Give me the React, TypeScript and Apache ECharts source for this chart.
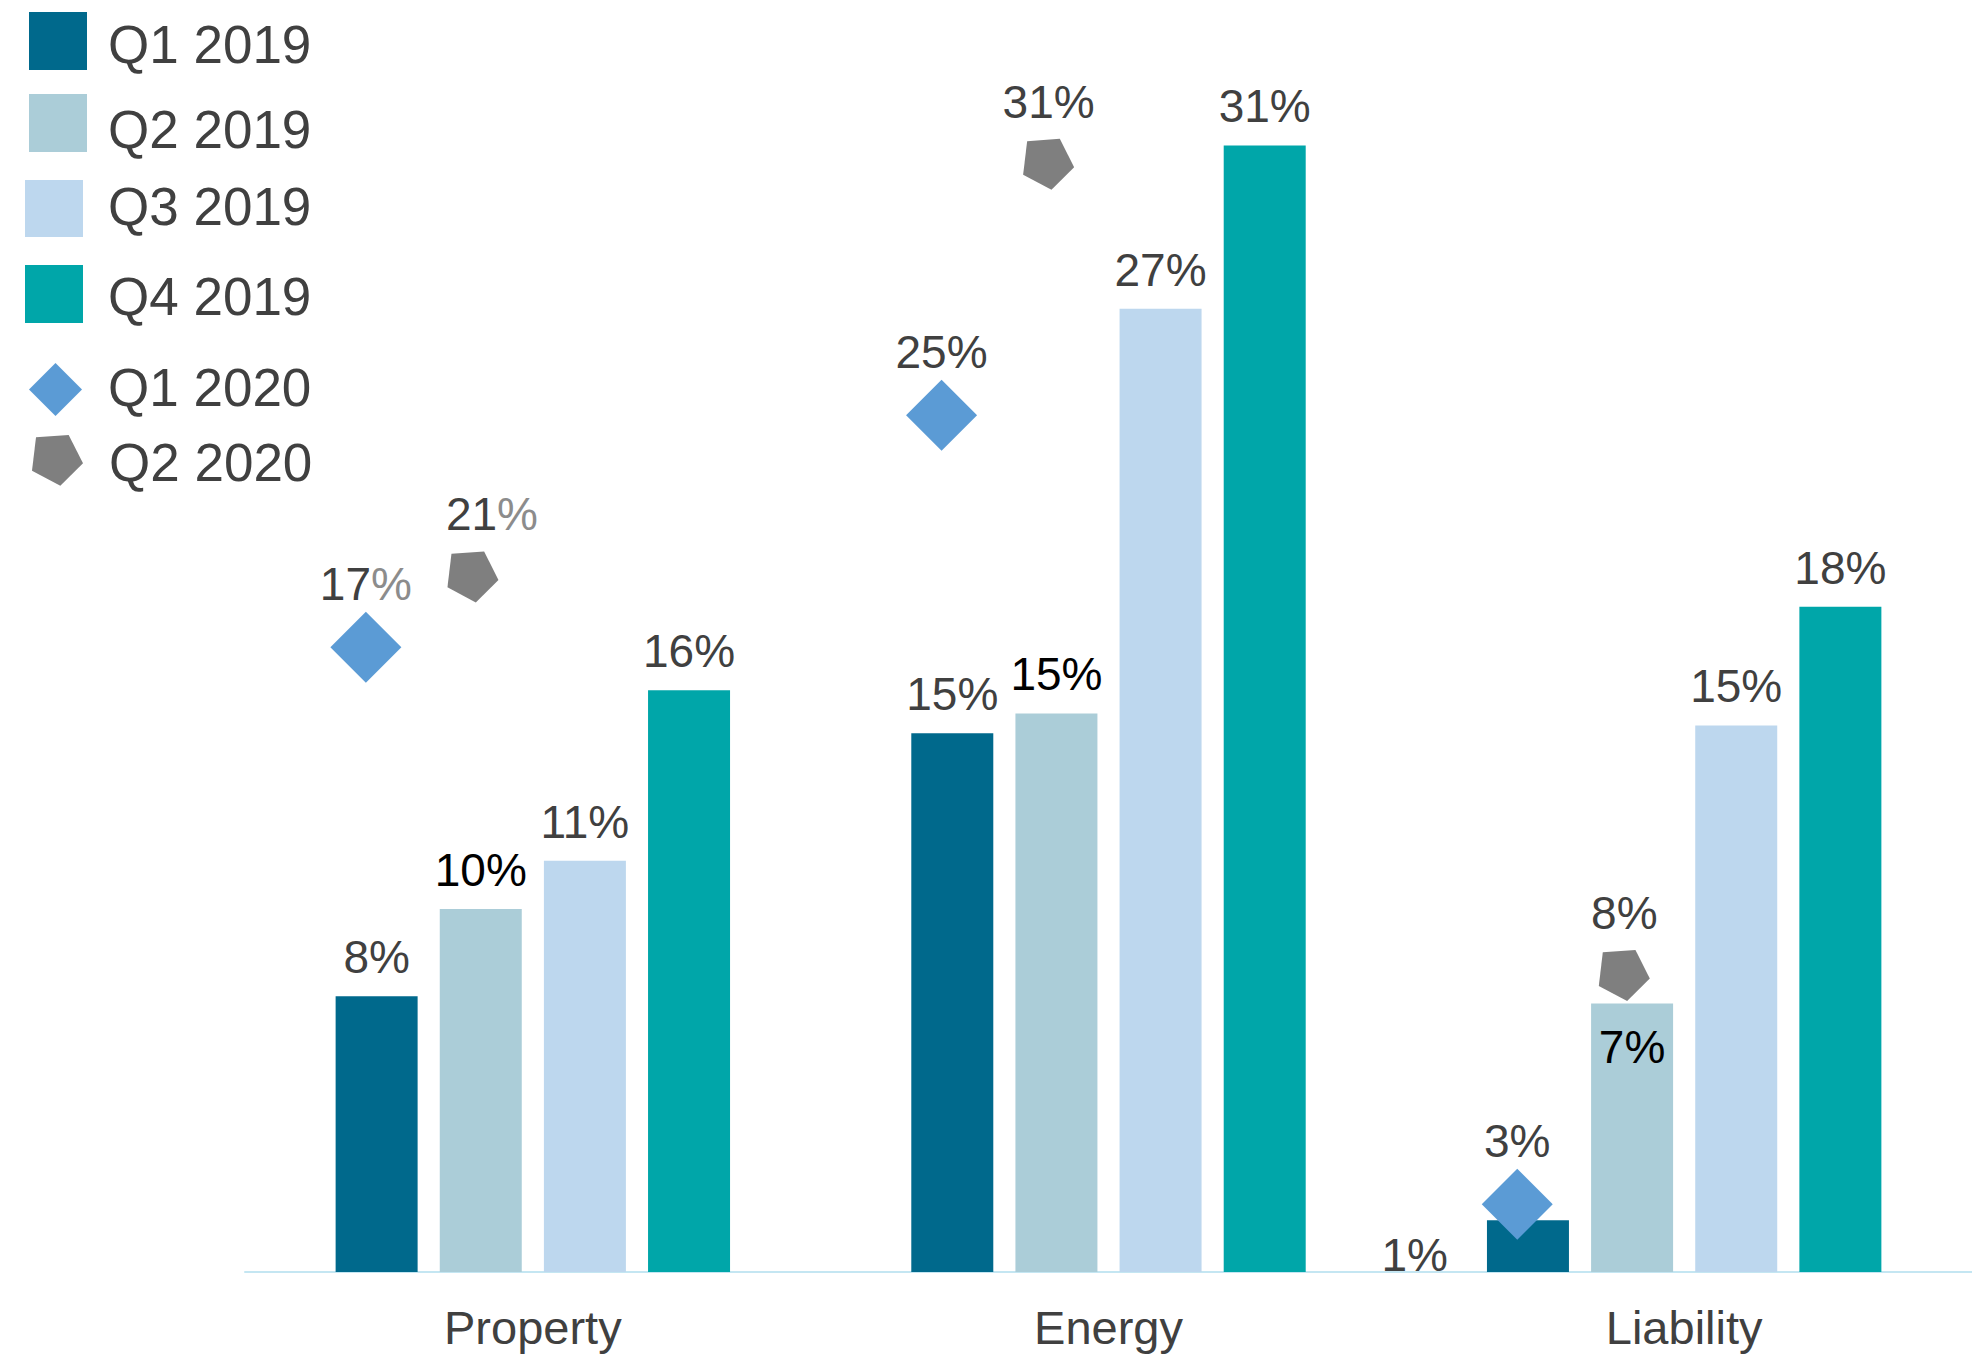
import React, { useEffect, useRef } from "react";
import * as echarts from "echarts";

// ---- Data ----
const categories = ["Property", "Energy", "Liability"];
const seriesNames = ["Q1 2019", "Q2 2019", "Q3 2019", "Q4 2019", "Q1 2020", "Q2 2020"];

const q1_2019 = [7.62, 14.88, 1.43];
const q2_2019 = [10.03, 15.43, 7.42];
const q3_2019 = [11.36, 26.61, 15.1];
const q4_2019 = [16.07, 31.12, 18.38];

// Marker heights as drawn, and the values printed in their labels
const q1_2020Marker = [17.26, 23.67, 1.87];
const q1_2020Labels = [17, 25, 3];
const q2_2020Marker = [19.2, 30.6, 8.19];
const q2_2020Labels = [21, 31, 8];

// ---- Styles ----
const FONT = "'Liberation Sans', Arial, Helvetica, sans-serif";
const TEXT = "#404040";
const COLORS = ["#00698C", "#ABCDD8", "#BDD7EE", "#00A6A9", "#5B9BD5", "#7F7F7F"];
const PENTAGON = "path://M465,222L563,215L606,300L538,367L453,322Z";
const DIAMOND_DX = -0.29;
const PENTAGON_DX = -0.104;

// legend icons (extra move-to points only pad the icon box so the text sits as in the reference)
const ICON_Q1_2019 = "path://M0,0L58,0L58,58L0,58Z M0,64";
const ICON_Q2_2019 = "path://M0,0L58,0L58,58L0,58Z M0,70";
const ICON_Q3_2019 = "path://M0,5L58,5L58,62L0,62Z M0,0";
const ICON_Q4_2019 = "path://M0,0L58,0L58,58L0,58Z M0,62";
const ICON_Q1_2020 = "path://M26.5,4L53,30.5L26.5,57L0,30.5Z M0,0";
const ICON_Q2_2020 = "path://M465,222L563,215L606,300L538,367L453,322Z M453,379";

export default function App() {
  const ref = useRef<HTMLDivElement>(null);

  useEffect(() => {
    if (!ref.current) return;
    const chart = echarts.init(ref.current, null, { renderer: "svg" });

    const barLabel = (color: string) => ({
      show: true,
      position: "top",
      distance: 16,
      color,
      fontSize: 46,
      fontFamily: FONT,
      formatter: (p: any) => `${Math.round(p.value)}%`,
    });

    const mkBar = (name: string, values: number[], color: string, labelColor: string, overrides: Record<number, any> = {}) => ({
      name,
      type: "bar",
      barWidth: 82,
      barGap: "27%",
      itemStyle: { color },
      label: barLabel(labelColor),
      data: values.map((v, i) => (overrides[i] ? { value: v, label: overrides[i] } : v)),
    });

    const legendBase = (name: string, icon: string, left: number, top: number, w: number, h: number, padLeft: number) => ({
      data: [{ name, icon }],
      left,
      top,
      orient: "vertical",
      itemWidth: w,
      itemHeight: h,
      padding: 0,
      selectedMode: false,
      textStyle: { fontSize: 53, color: TEXT, fontFamily: FONT, padding: [0, 0, 0, padLeft] },
    });

    const scatterLabel = (labels: number[], distance: number) => ({
      show: true,
      position: "top",
      distance,
      fontSize: 46,
      fontFamily: FONT,
      color: TEXT,
      formatter: (p: any) =>
        p.dataIndex === 0 ? `{d|${labels[p.dataIndex]}}{p|%}` : `${labels[p.dataIndex]}%`,
      rich: {
        d: { fontSize: 46, fontFamily: FONT, color: TEXT },
        p: { fontSize: 46, fontFamily: FONT, color: "#8C8C8C" },
      },
    });

    const option: any = {
      animation: false,
      backgroundColor: "#ffffff",
      textStyle: { fontFamily: FONT },
      legend: [
        legendBase(seriesNames[0], ICON_Q1_2019, 29, 12, 58, 64, 16),
        legendBase(seriesNames[1], ICON_Q2_2019, 29, 94, 58, 70, 16),
        legendBase(seriesNames[2], ICON_Q3_2019, 25, 175, 58, 62, 20),
        legendBase(seriesNames[3], ICON_Q4_2019, 25, 265, 58, 62, 20),
        legendBase(seriesNames[4], ICON_Q1_2020, 29, 359, 53, 57, 21),
        legendBase(seriesNames[5], ICON_Q2_2020, 32, 435, 51, 55, 21),
      ],
      grid: { left: 245, right: 0, top: 5, bottom: 97, containLabel: false },
      xAxis: [
        {
          type: "category",
          data: categories,
          axisLine: { show: true, lineStyle: { color: "#C4E6F2", width: 2 } },
          axisTick: { show: false },
          axisLabel: { color: TEXT, fontSize: 47, fontFamily: FONT, margin: 32 },
          splitLine: { show: false },
        },
        { type: "value", min: 0, max: 3, show: false },
      ],
      yAxis: {
        type: "value",
        min: 0,
        max: 35,
        show: false,
        splitLine: { show: false },
      },
      series: [
        mkBar(seriesNames[0], q1_2019, COLORS[0], TEXT, {
          2: { position: "left", distance: 39, offset: [0, 9] },
        }),
        mkBar(seriesNames[1], q2_2019, COLORS[1], "#000000", {
          2: { position: "insideTop", distance: 21 },
        }),
        mkBar(seriesNames[2], q3_2019, COLORS[2], TEXT),
        mkBar(seriesNames[3], q4_2019, COLORS[3], TEXT),
        {
          name: seriesNames[4],
          type: "scatter",
          xAxisIndex: 1,
          symbol: "diamond",
          symbolSize: 71,
          itemStyle: { color: COLORS[4], opacity: 1 },
          z: 5,
          label: scatterLabel(q1_2020Labels, 5),
          data: q1_2020Marker.map((v, i) => [i + 0.5 + DIAMOND_DX, v]),
        },
        {
          name: seriesNames[5],
          type: "scatter",
          xAxisIndex: 1,
          symbol: PENTAGON,
          symbolSize: 51,
          itemStyle: { color: COLORS[5], opacity: 1 },
          z: 5,
          label: scatterLabel(q2_2020Labels, 14),
          data: q2_2020Marker.map((v, i) =>
            i === 0
              ? { value: [i + 0.5 + PENTAGON_DX, v], label: { offset: [19, 0] } }
              : [i + 0.5 + PENTAGON_DX, v]
          ),
        },
      ],
    };

    chart.setOption(option);
    return () => chart.dispose();
  }, []);

  return (
    <div
      ref={ref}
      style={{ position: "fixed", left: 0, top: 0, width: 1972, height: 1369, background: "#fff" }}
    />
  );
}
